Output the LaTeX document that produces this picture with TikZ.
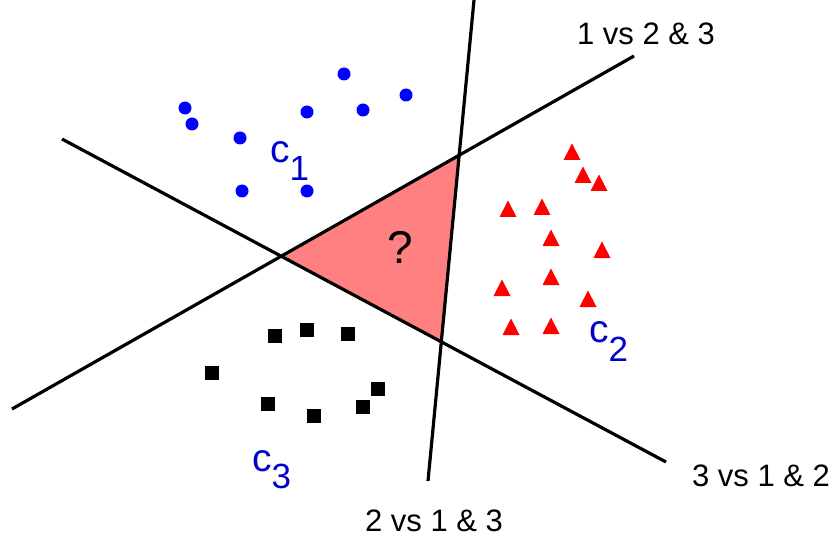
\documentclass[tikz,border=0pt]{standalone}
\usepackage{fontspec}
\setmainfont{Liberation Sans}
\usepackage{tikz}
\usetikzlibrary{arrows.meta}

\definecolor{clsblue}{RGB}{0,0,204}
\tikzset{
  bound/.style={line width=3.2pt, black},
  region/.style={fill=red!50, draw=red, line width=1.2pt},
  vslabel/.style={font=\fontsize{31}{36}\selectfont, anchor=base, inner sep=0pt},
  clslabel/.style={font=\fontsize{39}{42}\selectfont, text=clsblue, anchor=base west, inner sep=0pt},
  clsdigit/.style={font=\fontsize{35}{40}\selectfont},
}

\begin{document}
\begin{tikzpicture}[x=1pt, y=-1pt, >=Latex]
    \useasboundingbox (0,0) rectangle (837,537);
    % end points of the three decision lines
    \coordinate (a1) at (12,409);  \coordinate (a2) at (634,56);
    \coordinate (b1) at (474,0);   \coordinate (b2) at (428,481);
    \coordinate (c1) at (62,139);  \coordinate (c2) at (666,462);
    \coordinate (ab) at (intersection of a1--a2 and b1--b2);
    \coordinate (ac) at (intersection of a1--a2 and c1--c2);
    \coordinate (bc) at (intersection of b1--b2 and c1--c2);
    \draw[region] (ac) -- (ab) -- (bc) -- cycle;
    \node[font=\fontsize{46}{50}\selectfont, anchor=base, inner sep=0pt] (unk) at (400,263) {?};
    \draw[bound] (a1) -- (a2);
    \draw[bound] (b1) -- (b2);
    \draw[bound] (c1) -- (c2);
    \foreach \x/\y in {185/108,192/124,240/138,307/112,344/74,363/110,406/95,242/191,307/191}
      \fill[blue] (\x,\y) circle (6.5);
    \foreach \x/\y in {572/152,583/175,599/183,508/209,542/207,551/238,602/250,551/277,502/288,588/299,511/327,551/326}
      \fill[red] (\x-8.5,\y+8) -- (\x+8.5,\y+8) -- (\x,\y-8.5) -- cycle;
    \foreach \x/\y in {275/336,307/330,348/334,212/373,378/389,268/404,363/407,314/416}
      \fill[black] (\x-7,\y-7) rectangle ++(14,14);
    \node[clslabel] (cls1) at (270,163) {c\raisebox{-18pt}{\fontsize{35}{40}\selectfont 1}};
    \node[clslabel] (cls2) at (589,342) {c\raisebox{-19pt}{\fontsize{35}{40}\selectfont 2}};
    \node[clslabel] (cls3) at (252,471) {c\raisebox{-17pt}{\fontsize{35}{40}\selectfont 3}};
    \node[vslabel] (l1) at (646,45) {1 vs 2 \& 3};
    \node[vslabel] (l2) at (434,531) {2 vs 1 \& 3};
    \node[vslabel] (l3) at (761,486) {3 vs 1 \& 2};
  \end{tikzpicture}
\end{document}
